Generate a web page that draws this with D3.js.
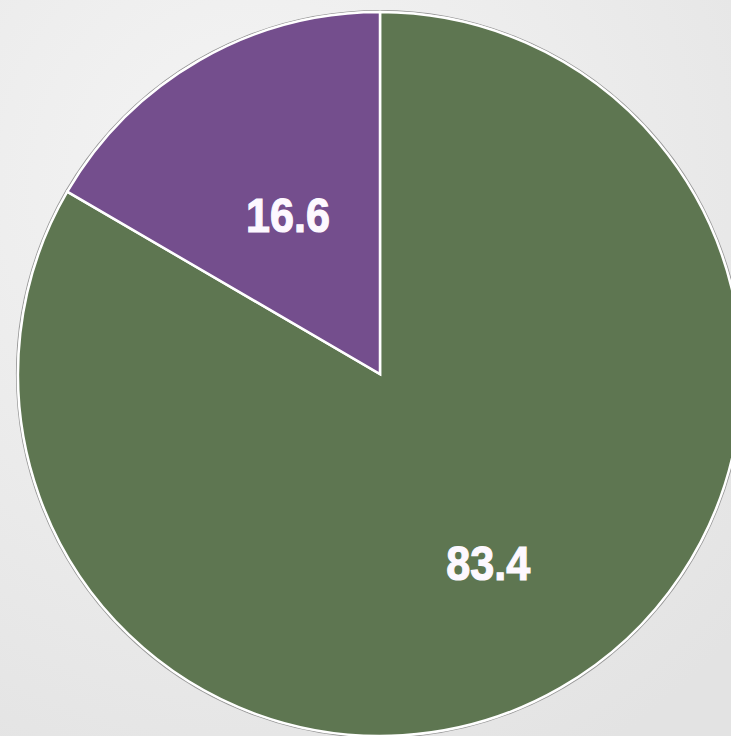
<!DOCTYPE html>
<html>
<head>
<meta charset="utf-8">
<script src="https://cdn.jsdelivr.net/npm/d3@7"></script>
<style>
  html, body { margin: 0; padding: 0; }
  body { width: 731px; height: 736px; overflow: hidden; }
</style>
</head>
<body>
<div id="chart"></div>
<script>
// slice data, clockwise from 12 o'clock
const categories = ['Green', 'Purple'];
const values = [83.4, 16.6];
const labels = ['83.4', '16.6'];
const colors = ['#5e7651', '#744e8d'];

const width = 731;
const height = 736;
const cx = 380;
const cy = 374;
const radius = 362;
// how far out along each slice the label sits (fraction of radius)
const labelRatio = [0.6, 0.51];

const svg = d3.select('#chart')
    .append('svg')
    .attr('width', width)
    .attr('height', height);

// soft grey backdrop
const defs = svg.append('defs');
const bg = defs.append('radialGradient')
    .attr('id', 'bg')
    .attr('cx', '35%')
    .attr('cy', '25%')
    .attr('r', '90%');
bg.append('stop').attr('offset', '0%').attr('stop-color', '#f5f5f5');
bg.append('stop').attr('offset', '100%').attr('stop-color', '#e3e3e3');

svg.append('rect')
    .attr('width', width)
    .attr('height', height)
    .attr('fill', 'url(#bg)');

const g = svg.append('g')
    .attr('transform', `translate(${cx},${cy})`);

// thin grey rim outside the white border
g.append('circle')
    .attr('r', radius + 1.5)
    .attr('fill', 'none')
    .attr('stroke', '#9a9a9a')
    .attr('stroke-width', 1.2);

const pie = d3.pie()
    .sort(null)
    .value(d => d.value);

const data = pie(categories.map((c, i) => ({ name: c, value: values[i], label: labels[i], color: colors[i] })));

const arc = d3.arc()
    .innerRadius(0)
    .outerRadius(radius);

g.selectAll('path.slice')
    .data(data)
    .join('path')
    .attr('class', 'slice')
    .attr('d', arc)
    .attr('fill', d => d.data.color)
    .attr('stroke', '#ffffff')
    .attr('stroke-width', 2.5)
    .attr('stroke-linejoin', 'miter');

// condensed heavy labels: Liberation Sans Bold squeezed a little
g.selectAll('text.label')
    .data(data)
    .join('text')
    .attr('class', 'label')
    .attr('transform', (d, i) => {
        const r = radius * labelRatio[i];
        const c = d3.arc().innerRadius(r).outerRadius(r).centroid(d);
        return `translate(${c[0]},${c[1]}) scale(0.88,1)`;
    })
    .attr('text-anchor', 'middle')
    .attr('dy', '0.36em')
    .attr('fill', '#fdf8ff')
    .attr('stroke', '#fdf8ff')
    .attr('stroke-width', 1.2)
    .attr('font-family', '"Liberation Sans", Arial, sans-serif')
    .attr('font-weight', 'bold')
    .attr('font-size', 49)
    .text(d => d.data.label);
</script>
</body>
</html>
